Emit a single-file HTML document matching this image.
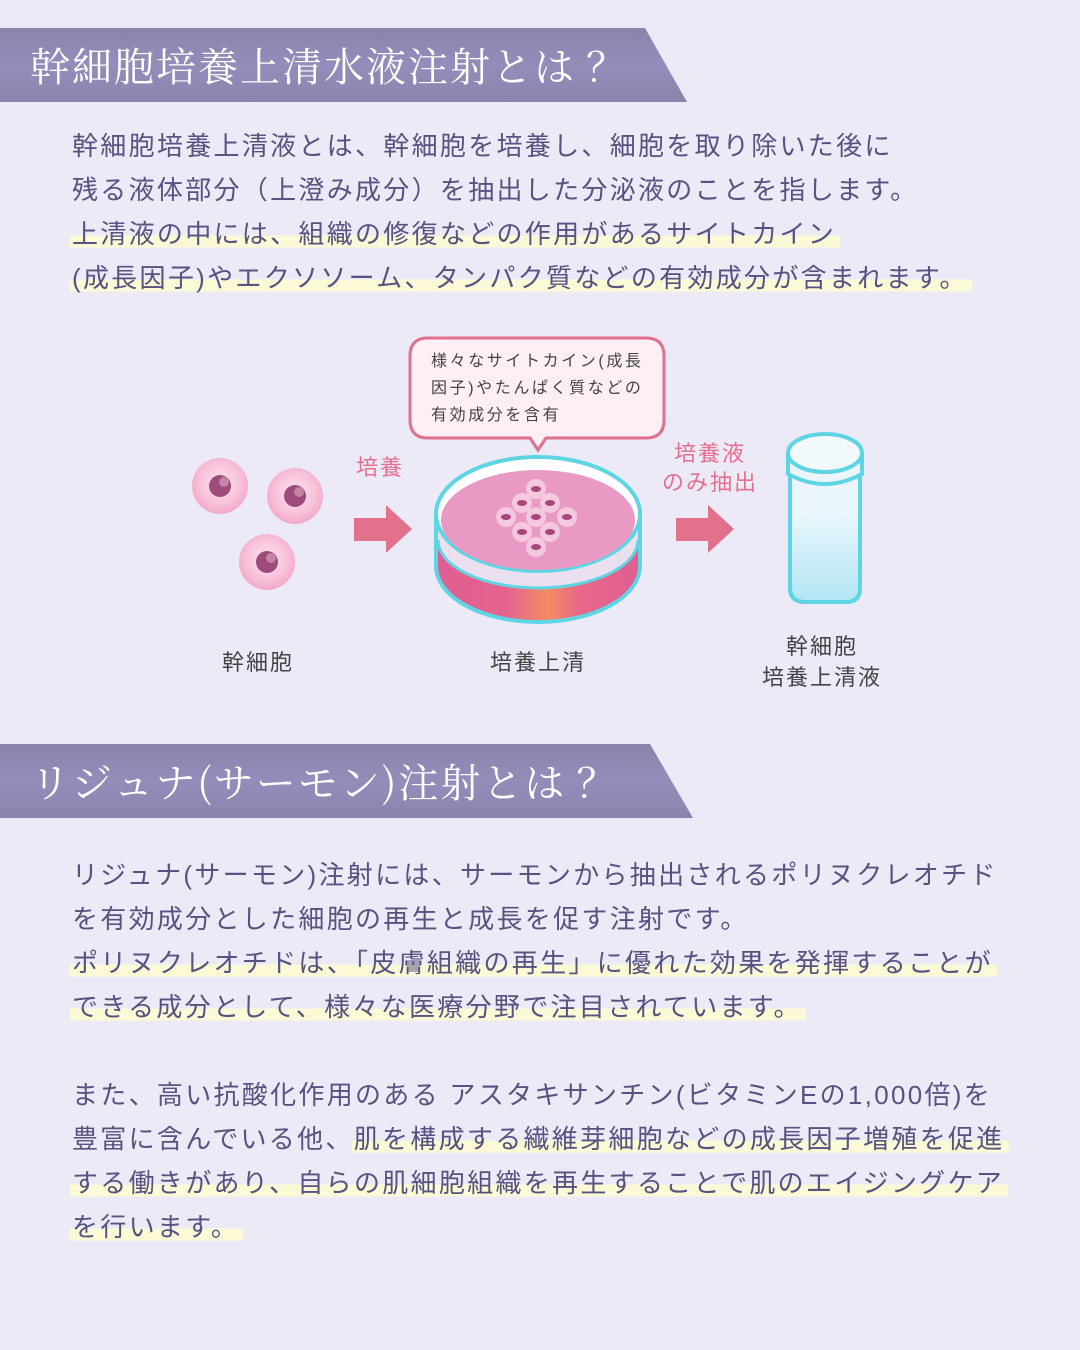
<!DOCTYPE html>
<html><head><meta charset="utf-8"><style>
body{margin:0;width:1080px;height:1350px;background:#edeaf7;position:relative;overflow:hidden;font-family:"Liberation Sans","Noto Sans CJK JP",sans-serif}
.ban{position:absolute;left:0;height:74px;background:linear-gradient(180deg,#8a84ad,#938dba 50%,#8a84ad);}
.bt{position:absolute;left:30px;color:#fff;font-family:"Noto Serif CJK SC","Liberation Serif",serif;font-size:40px;line-height:74px;white-space:nowrap;letter-spacing:2px}
.q{margin-left:10px}
.l{position:absolute;left:72px;font-size:26px;color:#57527f;white-space:nowrap;letter-spacing:2.3px;line-height:34px}
.h{background:linear-gradient(transparent 55%,#fcf9d6 55%,#fcf9d6 95%,transparent 95%);padding-right:4px;margin-left:-2px;padding-left:2px}
.lab{position:absolute;font-size:22px;color:#444;text-align:center;letter-spacing:2px;line-height:31px}
.pk{position:absolute;font-size:22px;color:#e66f8f;text-align:center;letter-spacing:2px;line-height:29px}
</style></head><body>
<div class="ban" style="top:28px;width:687px;clip-path:polygon(0 0,645px 0,687px 74px,0 74px)"></div>
<div class="bt" style="top:28px">幹細胞培養上清水液注射とは<span class="q">？</span></div>
<div class="l" style="top:129px">幹細胞培養上清液とは、幹細胞を培養し、細胞を取り除いた後に</div>
<div class="l" style="top:173px">残る液体部分（上澄み成分）を抽出した分泌液のことを指します。</div>
<div class="l" style="top:217px"><span class="h">上清液の中には、組織の修復などの作用があるサイトカイン</span></div>
<div class="l" style="top:261px"><span class="h">(成長因子)やエクソソーム、タンパク質などの有効成分が含まれます。</span></div>

<svg style="position:absolute;left:0;top:0" width="1080" height="720">
<defs>
<radialGradient id="cell" cx="50%" cy="45%" r="55%"><stop offset="0" stop-color="#fde6f1"/><stop offset="0.7" stop-color="#f7bfd8"/><stop offset="1" stop-color="#f2a9c9"/></radialGradient>
<linearGradient id="side" x1="0" x2="1"><stop offset="0" stop-color="#e05e92"/><stop offset="0.35" stop-color="#e4638e"/><stop offset="0.55" stop-color="#f48c62"/><stop offset="0.7" stop-color="#e8688a"/><stop offset="1" stop-color="#e05e92"/></linearGradient>
<linearGradient id="liq" x1="0" y1="0" x2="0" y2="1"><stop offset="0" stop-color="#e8f6fc"/><stop offset="1" stop-color="#b4e6f5"/></linearGradient>
</defs>
<g>
<circle cx="220" cy="486" r="28" fill="url(#cell)"/><circle cx="220" cy="486" r="11" fill="#9c4b7a"/><circle cx="224" cy="482" r="5" fill="#d69bbb" opacity=".7"/>
<circle cx="295" cy="496" r="28" fill="url(#cell)"/><circle cx="295" cy="496" r="11" fill="#9c4b7a"/><circle cx="299" cy="492" r="5" fill="#d69bbb" opacity=".7"/>
<circle cx="267" cy="562" r="28" fill="url(#cell)"/><circle cx="267" cy="562" r="11" fill="#9c4b7a"/><circle cx="271" cy="558" r="5" fill="#d69bbb" opacity=".7"/>
</g>
<polygon points="354,518 386,518 386,505 412,529 386,553 386,541 354,541" fill="#e2718d"/>
<polygon points="676,518 708,518 708,505 734,529 708,553 708,541 676,541" fill="#e2718d"/>
<path d="M428,338 H646 Q664,338 664,356 V420 Q664,438 646,438 H546 L538,450 L530,438 H428 Q410,438 410,420 V356 Q410,338 428,338 Z" fill="#fdeff3" stroke="#e0708c" stroke-width="3"/>
<path d="M436,516 V566 A102,56 0 0 0 640,566 V516 Z" fill="url(#side)"/>
<path d="M436,516 V538 A102,50 0 0 0 640,538 V516 Z" fill="#ebe0ef"/>
<ellipse cx="538" cy="514" rx="102" ry="57" fill="#fff" stroke="#5fd5e3" stroke-width="4"/>
<ellipse cx="538" cy="520" rx="97" ry="50" fill="#e89ac4"/>
<path d="M436,516 V566 A102,56 0 0 0 640,566 V516" fill="none" stroke="#5fd5e3" stroke-width="4"/>
<path d="M438,540 A100,48 0 0 0 638,540" fill="none" stroke="#5fd5e3" stroke-width="3"/>
<g fill="#f4c8dd"><circle cx="536" cy="489" r="10"/><circle cx="522" cy="503" r="10"/><circle cx="550" cy="503" r="10"/><circle cx="506" cy="517" r="10"/><circle cx="536" cy="517" r="10"/><circle cx="567" cy="517" r="10"/><circle cx="522" cy="532" r="10"/><circle cx="550" cy="532" r="10"/><circle cx="536" cy="547" r="10"/></g>
<g fill="#a8467c"><ellipse cx="536" cy="489" rx="5" ry="3"/><ellipse cx="522" cy="503" rx="5" ry="3"/><ellipse cx="550" cy="503" rx="5" ry="3"/><ellipse cx="506" cy="517" rx="5" ry="3"/><ellipse cx="536" cy="517" rx="5" ry="3"/><ellipse cx="567" cy="517" rx="5" ry="3"/><ellipse cx="522" cy="532" rx="5" ry="3"/><ellipse cx="550" cy="532" rx="5" ry="3"/><ellipse cx="536" cy="547" rx="5" ry="3"/></g>
<path d="M790,460 V588 Q790,602 806,602 H846 Q860,602 860,588 V460 Z" fill="#eaf6fc" stroke="#5fd5e3" stroke-width="4"/>
<path d="M792,520 Q825,510 858,520 V588 Q858,600 846,600 H806 Q792,600 792,588 Z" fill="url(#liq)"/>
<path d="M790,460 V588 Q790,602 806,602 H846 Q860,602 860,588 V460" fill="none" stroke="#5fd5e3" stroke-width="4"/>
<path d="M788,455 V474 Q825,494 862,474 V455" fill="#eaf6fc" stroke="#5fd5e3" stroke-width="4"/>
<ellipse cx="825" cy="453" rx="37" ry="19" fill="#f2fafd" stroke="#5fd5e3" stroke-width="4"/>
</svg>
<div style="position:absolute;left:431px;top:348px;font-size:16px;color:#444;line-height:27px;letter-spacing:2.6px;white-space:nowrap">様々なサイトカイン(成長<br>因子)やたんぱく質などの<br>有効成分を含有</div>
<div class="pk" style="left:340px;top:453px;width:80px">培養</div>
<div class="pk" style="left:650px;top:439px;width:120px">培養液<br>のみ抽出</div>
<div class="lab" style="left:198px;top:647px;width:120px">幹細胞</div>
<div class="lab" style="left:468px;top:647px;width:140px">培養上清</div>
<div class="lab" style="left:742px;top:631px;width:160px">幹細胞<br>培養上清液</div>

<div class="ban" style="top:744px;width:693px;clip-path:polygon(0 0,650px 0,693px 74px,0 74px)"></div>
<div class="bt" style="top:744px">リジュナ(サーモン)注射とは<span class="q">？</span></div>
<div class="l" style="top:858px">リジュナ(サーモン)注射には、サーモンから抽出されるポリヌクレオチド</div>
<div class="l" style="top:902px">を有効成分とした細胞の再生と成長を促す注射です。</div>
<div class="l" style="top:946px"><span class="h">ポリヌクレオチドは、「皮膚組織の再生」に優れた効果を発揮することが</span></div>
<div class="l" style="top:990px"><span class="h">できる成分として、様々な医療分野で注目されています。</span></div>
<div class="l" style="top:1078px">また、高い抗酸化作用のある アスタキサンチン(ビタミンEの1,000倍)を</div>
<div class="l" style="top:1122px">豊富に含んでいる他、<span class="h">肌を構成する繊維芽細胞などの成長因子増殖を促進</span></div>
<div class="l" style="top:1166px"><span class="h">する働きがあり、自らの肌細胞組織を再生することで肌のエイジングケア</span></div>
<div class="l" style="top:1210px"><span class="h">を行います。</span></div>
</body></html>
